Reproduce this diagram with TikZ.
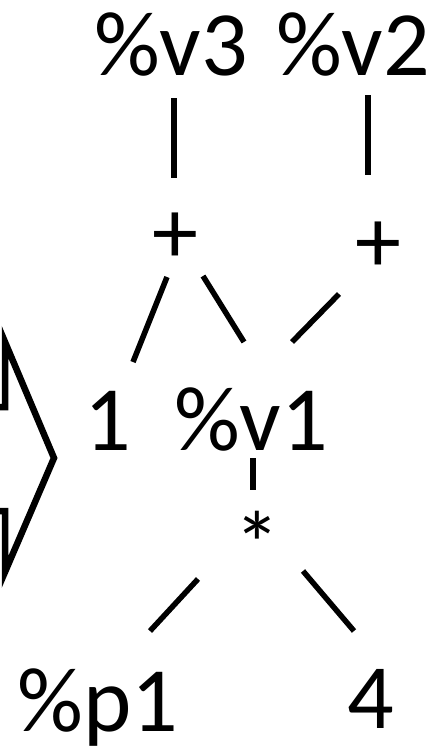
\documentclass[tikz,border=0pt]{standalone}
\usepackage{fontspec}
\setmainfont{Carlito}
\usetikzlibrary{calc}

\begin{document}
\begin{tikzpicture}[
    x=1pt, y=-1pt,
    term/.style={anchor=base, inner sep=0pt, font=\fontsize{92}{110}\selectfont},
    edge/.style={draw, line width=5.5pt}
]
\useasboundingbox (0,0) rectangle (434,752);

% big arrow on the left
\begin{scope}
\clip (0,0) rectangle (434,752);
\draw[line width=6.5pt, miter limit=20] (-30,407) -- (5,407) -- (5,342) -- (54,458) -- (5,572) -- (5,511) -- (-30,511);
\end{scope}

\node[term] (v3) at (171,75) {\%v3};
\node[term] (v2) at (353,75) {\%v2};

\node[term] (plusL) at (175,263) {+};
\node[term] (plusR) at (378,272) {+};

\node[term] (one) at (108,450) {1};
\node[term] (v1) at (251,450) {\%v1};

\node[term] (star) at (257,576) {*};

\node[term] (p1) at (98,731) {\%p1};
\node[term] (four) at (371,728) {4};

\draw[edge] ([shift={(3,23)}]v3.base) -- ([shift={(-1,-85)}]plusL.base);
\draw[edge] ([shift={(15,20)}]v2.base) -- ([shift={(-10,-97)}]plusR.base);
\draw[edge] ([shift={(-8,14)}]plusL.base) -- ([shift={(25,-88)}]one.base);
\draw[edge] ([shift={(28,13)}]plusL.base) -- ([shift={(-7,-108)}]v1.base);
\draw[edge] ([shift={(-39,22)}]plusR.base) -- ([shift={(41,-108)}]v1.base);
\draw[edge] ([shift={(2,8)}]v1.base) -- ([shift={(-4,-86)}]star.base);
\draw[edge] ([shift={(-59,3)}]star.base) -- ([shift={(52,-100)}]p1.base);
\draw[edge] ([shift={(46,-5)}]star.base) -- ([shift={(-17,-97)}]four.base);

\end{tikzpicture}
\end{document}
